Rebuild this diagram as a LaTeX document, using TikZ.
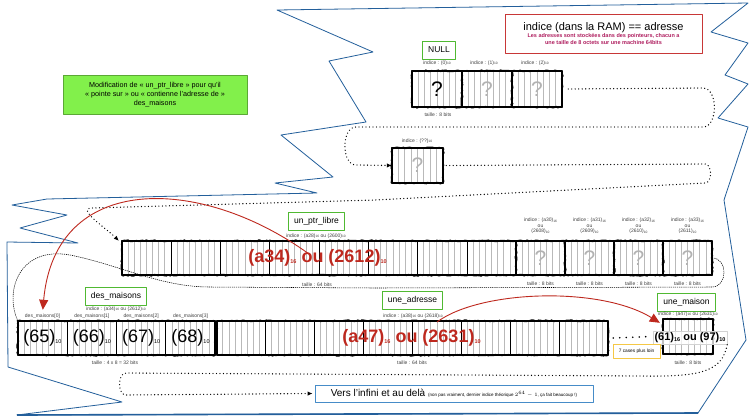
\documentclass[tikz,border=0pt]{standalone}
\usepackage{fontspec}
\setmainfont{Liberation Sans}
\usetikzlibrary{calc,arrows.meta,decorations.pathmorphing}

\newcommand\bval[2]{(#1)\raisebox{-0.6pt}{\fontsize{3.3}{3.5}\selectfont#2}}
\newcommand\bigval[2]{(#1)\raisebox{-1pt}{\fontsize{5.5}{6}\selectfont#2}}
\newcommand\membits[2]{%
  \pgfmathtruncatemacro\bitlast{8*#2-1}%
  \foreach \k in {1,...,\bitlast}{%
    \pgfmathtruncatemacro\bitrem{mod(\k,8)}%
    \ifnum\bitrem=0
      \draw[byteline] ($(#1.north west)!{\k/(\bitlast+1)}!(#1.north east)$) -- ($(#1.south west)!{\k/(\bitlast+1)}!(#1.south east)$);%
    \else
      \draw[bitline] ($(#1.north west)!{\k/(\bitlast+1)}!(#1.north east)$) -- ($(#1.south west)!{\k/(\bitlast+1)}!(#1.south east)$);%
    \fi}%
  \draw[line width=1.9pt] (#1.north west) rectangle (#1.south east);%
  \draw[rough] (#1.north west) rectangle (#1.south east);}

\begin{document}
\begin{tikzpicture}[x=1pt,y=-1pt,line join=round,
  zigzag/.style={draw=outlineblue,line width=0.8pt},
  cell/.style={inner sep=0pt,minimum height=34pt},
  bitline/.style={draw=gray!55,line width=0.9pt},
  byteline/.style={draw=black,line width=0.8pt},
  rough/.style={draw=black,line width=1.1pt,decorate,decoration={random steps,segment length=2pt,amplitude=0.9pt}},
  qmark/.style={font=\fontsize{21}{22}\selectfont,inner sep=0pt},
  nametag/.style={draw=taggreen,line width=0.9pt,fill=white,font=\fontsize{8.5}{10}\selectfont,inner xsep=5.5pt,inner ysep=0pt,minimum height=18pt},
  lbl/.style={font=\fontsize{5}{5.6}\selectfont,text=black!75,inner sep=0pt,align=center},
  redval/.style={text=memred,font=\bfseries\fontsize{18}{20}\selectfont,inner sep=0pt},
  houseval/.style={font=\fontsize{18}{20}\selectfont,inner sep=0pt},
  dotline/.style={line width=1.35pt,line cap=round,dash pattern=on 0pt off 3.5pt},
  bigdots/.style={line width=1.8pt,line cap=round,dash pattern=on 0pt off 6.5pt},
  thindash/.style={line width=0.55pt,dash pattern=on 1.2pt off 0.9pt},
  ptrarrow/.style={draw=memred,line width=0.9pt,-{Triangle[length=10pt,width=9pt]}},
  dotarrow/.style={-{Latex[length=5pt,width=4.5pt]}}]
  \definecolor{memred}{RGB}{190,40,30}
  \definecolor{memmagenta}{RGB}{175,30,95}
  \definecolor{notegreen}{RGB}{130,240,75}
  \definecolor{taggreen}{RGB}{80,185,50}
  \definecolor{hdrred}{RGB}{200,55,55}
  \definecolor{outlineblue}{RGB}{35,95,155}
  \definecolor{versblue}{RGB}{70,140,200}
  \definecolor{loingold}{RGB}{245,200,70}
  \useasboundingbox[fill=white] (0,0) rectangle (749,416);

  \draw[zigzag] (277,10) -- (748,3) -- (711,32) -- (748,43) -- (725,75) -- (748,84) -- (718,118) -- (748,127) -- (724,200) -- (746,340) -- (698,413) -- (17,415) -- (122,402) -- (8,367) -- (7,242) -- (78,243) -- (20,228) -- (67,215) -- (12,205) -- (47,199) -- (317,193) -- (275,183) -- (333,177) -- (281,135) -- (366,122) -- (329,61) -- (373,52) -- cycle;
  \draw[zigzag,line width=1.6pt] (698,413) -- (17,415);

  \node[draw=notegreen!70!black,fill=notegreen,line width=0.6pt,align=center,font=\fontsize{7.2}{9}\selectfont,minimum width=184pt,minimum height=39pt,inner sep=1pt] (modif) at (155,94.5) {Modification de « un\_ptr\_libre » pour qu'il\\« pointe sur » ou «  contienne l'adresse de »\\des\_maisons};
  \node[draw=hdrred,line width=0.9pt,fill=white,align=center,minimum width=197pt,minimum height=39pt,inner sep=1pt,font=\bfseries\fontsize{5.5}{6.8}\selectfont,text=memmagenta] (hdr) at (603.5,33.5) {{\mdseries\color{black}\fontsize{11}{12}\selectfont indice (dans la RAM) == adresse}\\[1pt]Les adresses sont stockées dans des pointeurs, chacun a\\une taille de 8 octets sur une machine 64bits};

  \node[cell,minimum width=50pt,minimum height=36pt] (c0) at (437,89) {};
  \node[cell,minimum width=50pt,minimum height=36pt] (c1) at (487,89) {};
  \node[cell,minimum width=50pt,minimum height=36pt] (c2) at (537,89) {};
  \node[cell,minimum width=51pt,minimum height=35pt] (cq) at (417.5,165.5) {};
  \node[cell,minimum width=394pt] (ptr) at (319,258) {};
  \node[cell,minimum width=197pt] (maisons) at (116.5,338) {};
  \node[cell,minimum width=391pt] (adr) at (412.5,338) {};
  \node[cell,minimum width=50pt,minimum height=35pt] (maison) at (688,336.5) {};
  \membits{c0}{1}
  \membits{c1}{1}
  \membits{c2}{1}
  \membits{cq}{1}
  \membits{ptr}{8}
  \membits{maisons}{4}
  \membits{adr}{8}
  \membits{maison}{1}
  \node[qmark] (q0) at (c0) {?};
  \node[qmark,text=gray!60] (q1) at (c1) {?};
  \node[qmark,text=gray!60] (q2) at (c2) {?};
  \node[qmark,text=gray!60] (qq) at (cq) {?};
  \foreach \n/\x/\d in {0/540.5/2608,1/589.5/2609,2/638.5/2610,3/687.5/2611}{
    \node[cell,minimum width=49pt] (a3\n) at (\x,258) {};
    \membits{a3\n}{1}
    \node[qmark,text=gray!60] (qa3\n) at (a3\n) {?};
    \node[lbl] (ia3\n) at (\x,226) {indice : \bval{a3\n}{16}\\ou\\\bval{\d}{10}};
    \node[lbl] (ta3\n) at (\x,284) {taille : 8 bits};
  }

  \draw[dotline,dotarrow] ([xshift=6pt]c2.east) -- (703,88) to[out=0,in=0] (703,127) -- (356,127) to[out=180,in=180] (356,165) -- (cq.west);
  \draw[dotline,dotarrow] ([xshift=3pt]cq.east) -- (705,164) to[out=0,in=0] (705,183) -- (375,200) -- (92,208) to[out=180,in=135] ([xshift=-3pt]ptr.north west);
  \draw[thindash] (a33.east) to[out=0,in=0,looseness=1.4] (712,287) -- (375,288) -- (210,287) .. controls (160,287) and (120,265) .. (70,255) .. controls (20,246) and (4,290) .. (maisons.north west);
  \fill (maisons.north west) circle (1.3);
  \draw[bigdots] ([xshift=5pt]adr.east) -- ([xshift=-12pt]maison.west);

  \coordinate (ptrou) at (309,254);
  \coordinate (adrou) at (437,322);
  \draw[ptrarrow] (ptrou) .. controls (200,175) and (55,172) .. ([xshift=25pt,yshift=11pt]maisons.north west);
  \draw[ptrarrow] (adrou) .. controls (480,290) and (600,286) .. ([xshift=-3pt,yshift=-4pt]maison.north west);

  \node[redval] (ptrval) at (317.5,258) {\bigval{a34}{16} ou \bigval{2612}{10}};
  \node[redval] (adrval) at (411.5,338) {\bigval{a47}{16} ou \bigval{2631}{10}};
  \foreach \n/\v in {0/65,1/66,2/67,3/68}{
    \node[houseval] (v\n) at ($(maisons.west)!{(\n+0.5)/4}!(maisons.east)$) {\bigval{\v}{10}};
    \node[lbl] (dm\n) at ($(maisons.north west)!{(\n+0.5)/4}!(maisons.north east)+(0,-4.5)$) {des\_maisons[\n]};
  }
  \node[draw=gray!35,fill=white,fill opacity=0.75,text opacity=1,inner sep=1.5pt,font=\bfseries\fontsize{11}{12}\selectfont] (mval) at (690,338) {\bigval{61}{16} ou \bigval{97}{10}};
  \node[draw=loingold,line width=0.8pt,fill=white,font=\fontsize{4.8}{5.5}\selectfont,minimum width=47pt,minimum height=14pt,inner sep=0pt] (loin) at (636.5,351) {7 cases plus loin};

  \node[draw=versblue,line width=0.9pt,fill=white,minimum width=278pt,minimum height=17pt,inner xsep=4pt,inner ysep=0pt] (vers) at (454,393.5) {{\fontsize{10}{12}\selectfont Vers l'infini et au delà} {\fontsize{4.5}{5}\selectfont (non pas vraiment, dernier indice théorique $2^{64}-1$, ça fait beaucoup !)}};
  \draw[dotline,dotarrow] (mval.south east) .. controls (722,372) and (700,377) .. (640,376) -- (126,373) to[out=180,in=180] (126,395) -- ([xshift=-2pt]vers.west);

  \node[nametag] (null) at (439,50) {NULL};
  \node[nametag] (ptrtag) at (316.5,221) {un\_ptr\_libre};
  \node[nametag] (maisonstag) at (116,296) {des\_maisons};
  \node[nametag] (adrtag) at (412.5,300) {une\_adresse};
  \node[nametag] (maisontag) at (686.5,302) {une\_maison};

  \node[lbl] (i0) at (437,63) {indice : \bval{0}{10}};
  \node[lbl] (i1) at (484,63) {indice : \bval{1}{10}};
  \node[lbl] (i2) at (535,63) {indice : \bval{2}{10}};
  \node[lbl] (t0) at (438,115) {taille : 8 bits};
  \node[lbl] (iq) at (417,141) {indice : \bval{??}{10}};
  \node[lbl] (iptr) at (316,236) {indice : \bval{a28}{16} ou \bval{2600}{10}};
  \node[lbl] (tptr) at (317,285) {taille : 64 bits};
  \node[lbl] (imaisons) at (116,309) {indice : \bval{a34}{16} ou \bval{2612}{10}};
  \node[lbl] (tmaisons) at (115,363) {taille : 4 x 8 = 32 bits};
  \node[lbl] (iadr) at (413,316) {indice : \bval{a38}{16} ou \bval{2618}{10}};
  \node[lbl] (tadr) at (412,363) {taille : 64 bits};
  \node[lbl] (imaison) at (688,314) {indice : \bval{a47}{16} ou \bval{2631}{10}};
  \node[lbl] (tmaison) at (688,363) {taille : 8 bits};
\end{tikzpicture}
\end{document}
